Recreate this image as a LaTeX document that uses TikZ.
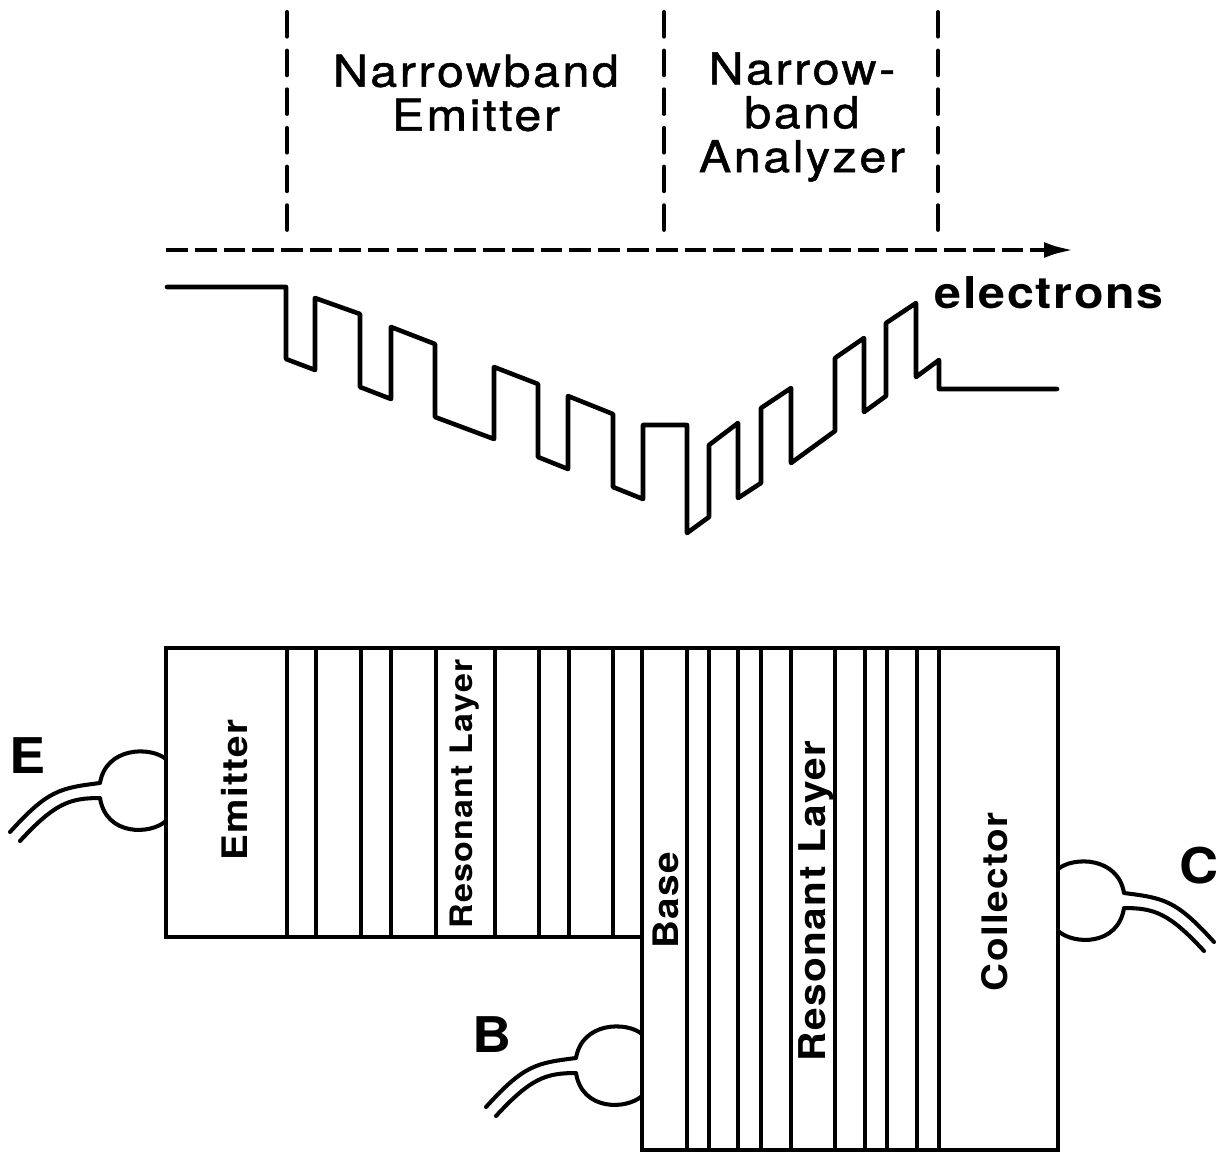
\documentclass[tikz,border=0pt]{standalone}
\usepackage{fontspec}
\newfontfamily\labelfont[LetterSpace=6,FakeStretch=1.1,FakeBold=1.2]{TeX Gyre Heros}
\newfontfamily\sidefont[LetterSpace=4,FakeStretch=1.1]{TeX Gyre Heros Bold}
\usetikzlibrary{arrows.meta}
\tikzset{
	wall/.style={line width=2.3pt},
	band/.style={line width=2.6pt, line join=round, line cap=round},
	region/.style={line width=2.3pt, line cap=round, dash pattern=on 14pt off 8pt},
	flow/.style={line width=2.6pt, dash pattern=on 12.4pt off 4pt},
	toplabel/.style={font=\labelfont\fontsize{25}{25}\selectfont, align=center},
	layerlabel/.style={font=\sidefont\fontsize{20}{22}\selectfont, rotate=90},
	letterlabel/.style={font=\sidefont\fontsize{28}{30}\selectfont},
	lead/.pic={
		\draw[wall] (166,759) .. controls (150,746) and (106,747) .. (100,783);
		\draw[wall] (100,798) .. controls (106,836) and (150,835) .. (166,821);
		\draw[wall, line cap=round] (100,783) .. controls (60,788) and (48,790) .. (10,832);
		\draw[wall, line cap=round] (100,798) .. controls (70,798) and (55,803) .. (20,841);
	}
}

\begin{document}
\begin{tikzpicture}[x=0.02cm, y=-0.02cm]
		\useasboundingbox (0,0) rectangle (1222,1154);
		% regions
		\draw[region] (287,12) -- (287,230);
		\draw[region] (664,12) -- (664,230);
		\draw[region] (938,12) -- (938,230);
		\node[toplabel] (emitterband) at (476,93) {Narrowband\\Emitter};
		\node[toplabel] (analyzerband) at (802,117) {Narrow-\\band\\Analyzer};
		\coordinate (flowstart) at (166,250);
		\coordinate (flowend) at (1074,250);
		\draw[flow, -{Latex[length=17pt,width=9pt]}] (flowstart) -- (flowend);
		\node[font=\sidefont\fontsize{25}{26}\selectfont] (electrons) at (1049,293) {electrons};
		% band profile
		\draw[band] (167,287) -- (286,287) -- (286,359) -- (315,370) -- (315,298) -- (360,314)
			-- (360,387) -- (391,399) -- (391,327) -- (435,344) -- (435,417) -- (494,439)
			-- (494,367) -- (538,384) -- (538,457) -- (568,469) -- (568,396) -- (613,414)
			-- (613,487) -- (643,499) -- (643,425) -- (687,425) -- (687,533) -- (709,517)
			-- (709,445) -- (738,423) -- (738,498) -- (761,483) -- (761,408) -- (791,388)
			-- (791,463) -- (835,431) -- (835,358) -- (864,338) -- (864,412) -- (886,396)
			-- (886,323) -- (916,303) -- (916,377) -- (939,360) -- (939,389) -- (1057,389);
		% device
		\draw[wall] (166,648) -- (1058,648) -- (1058,1150) -- (642,1150) -- (642,937) -- (166,937) -- cycle;
		\draw[wall] (642,648) -- (642,937);
		\foreach \x in {287,316,361,391,436,495,539,569,613}
			\draw[wall] (\x,648) -- (\x,937);
		\foreach \x in {687,709,738,761,791,835,865,887,917,939}
			\draw[wall] (\x,648) -- (\x,1150);
		\node[layerlabel] (emitter) at (235,790) {Emitter};
		\node[layerlabel, font=\sidefont\fontsize{17.6}{20}\selectfont] (resonantleft) at (465,794) {Resonant Layer};
		\node[layerlabel] (base) at (666,900) {Base};
		\node[layerlabel, font=\sidefont\fontsize{21}{23}\selectfont] (resonantright) at (816,901) {Resonant Layer};
		\node[layerlabel] (collector) at (995,902) {Collector};
		% contacts
		\pic at (0,0) {lead};
		\pic at (476,275) {lead};
		\pic[xscale=-1] at (1224,110) {lead};
		\node[letterlabel] (labelE) at (28,756) {E};
		\node[letterlabel] (labelB) at (492,1035) {B};
		\node[letterlabel] (labelC) at (1199,866) {C};
	\end{tikzpicture}
\end{document}
